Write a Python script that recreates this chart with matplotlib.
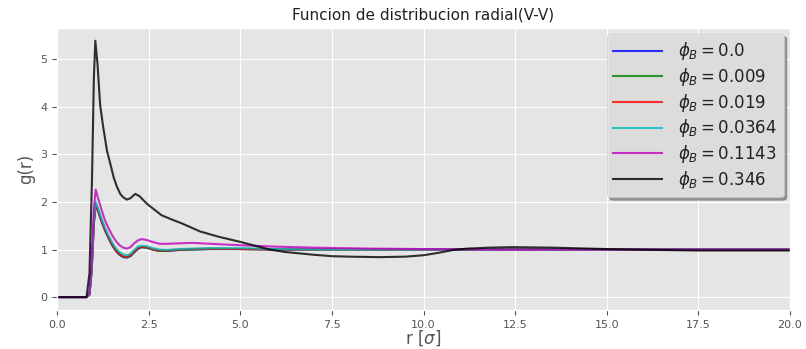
import numpy as np
import matplotlib
matplotlib.use("Agg")
import matplotlib.pyplot as plt

# g(r) V-V para distintas fracciones de B
r_col = [0, 0.8, 0.88, 0.94, 1.0, 1.05, 1.1, 1.2, 1.3, 1.4, 1.5, 1.6, 1.7,
         1.8, 1.9, 2.0, 2.1, 2.2, 2.3, 2.45, 2.6, 2.8, 3.0, 3.3, 3.7, 4.2,
         5.0, 6.0, 7.0, 8.5, 10.0, 12.0, 15.0, 20.0]

g_00 = [0, 0, 0.05, 0.55, 1.55, 1.94, 1.84, 1.61, 1.41, 1.24, 1.09, 0.97,
        0.89, 0.84, 0.83, 0.86, 0.94, 1.01, 1.05, 1.04, 1.0, 0.97, 0.97,
        0.99, 1.0, 1.01, 1.01, 1.0, 1.0, 1.0, 1.0, 1.0, 1.0, 1.0]
g_009 = [0, 0, 0.05, 0.56, 1.56, 1.95, 1.85, 1.62, 1.42, 1.25, 1.1, 0.98,
         0.9, 0.85, 0.84, 0.87, 0.95, 1.02, 1.05, 1.04, 1.0, 0.97, 0.97,
         0.99, 1.0, 1.01, 1.01, 1.0, 1.0, 1.0, 1.0, 1.0, 1.0, 1.0]
g_019 = [0, 0, 0.05, 0.57, 1.57, 1.96, 1.86, 1.63, 1.43, 1.26, 1.11, 0.99,
         0.91, 0.86, 0.85, 0.88, 0.96, 1.03, 1.06, 1.05, 1.01, 0.98, 0.98,
         1.0, 1.01, 1.02, 1.01, 1.0, 1.0, 1.0, 1.0, 1.0, 1.0, 1.0]
g_0364 = [0, 0, 0.06, 0.6, 1.62, 2.0, 1.9, 1.67, 1.47, 1.3, 1.15, 1.03,
          0.95, 0.9, 0.88, 0.91, 0.99, 1.06, 1.08, 1.07, 1.03, 1.0, 0.99,
          1.01, 1.02, 1.03, 1.03, 1.01, 1.0, 1.0, 1.0, 1.0, 1.0, 1.0]
g_1143 = [0, 0, 0.08, 0.7, 1.85, 2.26, 2.12, 1.86, 1.62, 1.45, 1.3, 1.18,
          1.09, 1.04, 1.02, 1.05, 1.13, 1.19, 1.22, 1.2, 1.16, 1.12, 1.12,
          1.13, 1.14, 1.12, 1.09, 1.06, 1.04, 1.02, 1.01, 1.0, 1.0, 1.0]

r_blk = [0, 0.8, 0.88, 0.95, 1.0, 1.04, 1.1, 1.17, 1.25, 1.36, 1.45, 1.54,
         1.63, 1.72, 1.8, 1.9, 2.0, 2.13, 2.25, 2.45, 2.65, 2.85, 3.1, 3.4,
         3.9, 4.4, 5.0, 5.8, 6.2, 7.0, 7.5, 8.0, 8.8, 9.5, 10.0, 10.4, 10.8,
         11.2, 11.8, 12.4, 13.5, 15.0, 16.5, 17.5, 19.0, 20.0]
g_346 = [0, 0, 0.5, 2.5, 4.6, 5.39, 4.9, 4.05, 3.6, 3.07, 2.8, 2.52, 2.32,
         2.17, 2.1, 2.05, 2.08, 2.17, 2.12, 1.96, 1.84, 1.72, 1.64, 1.55,
         1.38, 1.27, 1.16, 1.0, 0.95, 0.89, 0.86, 0.85, 0.84, 0.85, 0.88,
         0.93, 0.99, 1.02, 1.04, 1.05, 1.04, 1.01, 0.99, 0.98, 0.98, 0.98]

phis = ["0.0", "0.009", "0.019", "0.0364", "0.1143", "0.346"]
colores = ["b", "g", "r", "c", "m", "k"]

plt.style.use("ggplot")
fig = plt.figure(figsize=(8.06, 3.49), dpi=100)
ax = fig.add_axes([0.071, 0.112, 0.909, 0.808])

series = [(r_col, g_00), (r_col, g_009), (r_col, g_019),
          (r_col, g_0364), (r_col, g_1143), (r_blk, g_346)]
for (r, g), phi, c in zip(series, phis, colores):
    ax.plot(np.array(r), np.array(g), color=c, lw=1.5, alpha=0.8,
            label=r"$\phi_B = %s$" % phi)

ax.set_xlim(0, 20)
ax.set_title("Funcion de distribucion radial(V-V)", fontsize=11, color="#222222")
ax.set_xlabel(r"r [$\sigma$]", fontsize=12, labelpad=-1)
ax.set_ylabel("g(r)", fontsize=12)
ax.tick_params(labelsize=8)
leg = ax.legend(loc="upper right", fontsize=12, shadow=True, handlelength=2.9,
                handletextpad=1.0, labelspacing=0.22, borderaxespad=0.35,
                facecolor="#e5e5e5", framealpha=0.9, edgecolor="#c8c8c8")
for t in leg.get_texts():
    t.set_color("#222222")

plt.savefig("out.png", dpi=100)
